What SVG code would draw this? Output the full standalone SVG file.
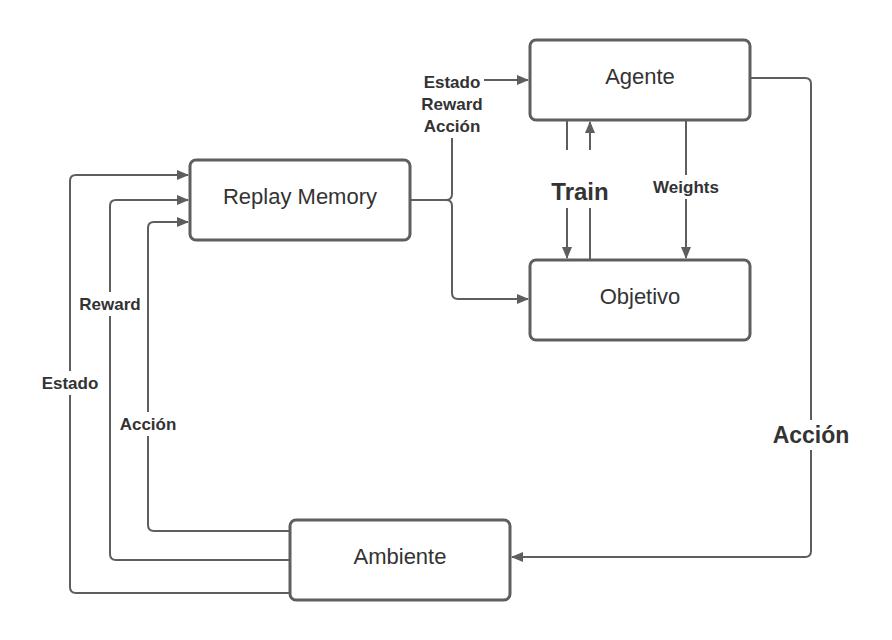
<svg xmlns="http://www.w3.org/2000/svg" width="892" height="640" viewBox="0 0 892 640">
<defs>
<marker id="ah" markerWidth="12" markerHeight="10" refX="11" refY="5" orient="auto" markerUnits="userSpaceOnUse">
<path d="M0,0 L12,5 L0,10 Z" fill="#5e5e5e"/>
</marker>
<style>
.box{fill:#fff;stroke:#5e5e5e;stroke-width:3}
.c{fill:none;stroke:#5e5e5e;stroke-width:2}
.t{font-family:"Liberation Sans",Arial,sans-serif;font-size:22px;fill:#333;text-anchor:middle}
.l{font-family:"Liberation Sans",Arial,sans-serif;font-size:17px;font-weight:bold;fill:#333;text-anchor:middle}
.bg{fill:#fff}
</style>
</defs>
<rect width="892" height="640" fill="#fff"/>
<g id="connectors">
<path class="c" d="M410,200 H446 Q452,200 452,194 V138"/>
<path class="c" d="M446,200 Q452,200 452,206 V293 Q452,299 458,299 H528" marker-end="url(#ah)"/>
<path class="c" d="M484,80 H528" marker-end="url(#ah)"/>
<path class="c" d="M567,121 V150"/>
<path class="c" d="M567,208 V258" marker-end="url(#ah)"/>
<path class="c" d="M590,150 V122" marker-end="url(#ah)"/>
<path class="c" d="M590,208 V259"/>
<path class="c" d="M686,121 V258" marker-end="url(#ah)"/>
<path class="c" d="M751,78 H805 Q811,78 811,84 V551 Q811,557 805,557 H512" marker-end="url(#ah)"/>
<path class="c" d="M290,593 H76 Q70,593 70,587 V181 Q70,175 76,175 H188" marker-end="url(#ah)"/>
<path class="c" d="M290,560 H116 Q110,560 110,554 V206 Q110,200 116,200 H188" marker-end="url(#ah)"/>
<path class="c" d="M290,531 H154 Q148,531 148,525 V228 Q148,222 154,222 H188" marker-end="url(#ah)"/>
<rect class="bg" x="648" y="175" width="76" height="24"/>
<rect class="bg" x="768" y="420" width="88" height="30"/>
<rect class="bg" x="76" y="292" width="68" height="24"/>
<rect class="bg" x="34" y="371" width="72" height="24"/>
<rect class="bg" x="112" y="412" width="72" height="24"/>
<text class="l" x="110" y="310">Reward</text>
<text class="l" x="452" y="88">Estado</text>
<text class="l" x="452" y="110">Reward</text>
<text class="l" x="452" y="132">Acción</text>
<text class="t" x="580" y="200" style="font-size:24px;font-weight:bold">Train</text>
<text class="l" x="686" y="193">Weights</text>
<text class="t" x="811" y="443" style="font-size:23px;font-weight:bold">Acción</text>
<text class="l" x="70" y="389">Estado</text>
<text class="l" x="148" y="430">Acción</text>
</g>
<g id="agente">
<rect class="box" x="530" y="40" width="220" height="80" rx="6"/>
<text class="t" x="640" y="84">Agente</text>
</g>
<g id="objetivo">
<rect class="box" x="530" y="260" width="220" height="80" rx="6"/>
<text class="t" x="640" y="304">Objetivo</text>
</g>
<g id="replay">
<rect class="box" x="190" y="160" width="220" height="80" rx="6"/>
<text class="t" x="300" y="204">Replay Memory</text>
</g>
<g id="ambiente">
<rect class="box" x="290" y="520" width="220" height="80" rx="6"/>
<text class="t" x="400" y="564">Ambiente</text>
</g>
</svg>
